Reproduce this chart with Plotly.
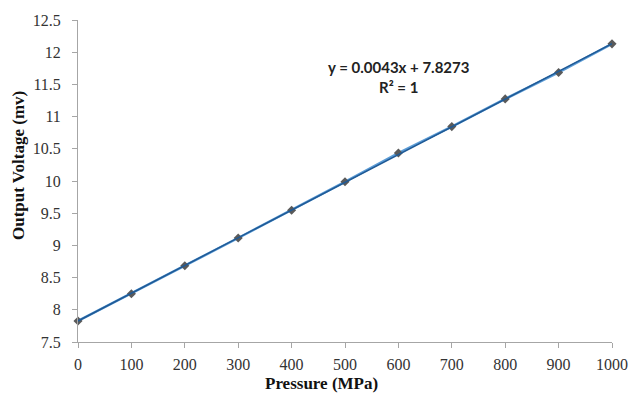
import numpy as np
import plotly.graph_objects as go

pressure = [0, 100, 200, 300, 400, 500, 600, 700, 800, 900, 1000]
voltage = [7.827, 8.250, 8.685, 9.115, 9.545, 9.988, 10.435, 10.845, 11.275, 11.685, 12.13]
x_ticks = [0, 100, 200, 300, 400, 500, 600, 700, 800, 900, 1000]
y_ticks = [7.5, 8, 8.5, 9, 9.5, 10, 10.5, 11, 11.5, 12, 12.5]
y_tick_text = ["7.5", "8", "8.5", "9", "9.5", "10", "10.5", "11", "11.5", "12", "12.5"]

slope, intercept = np.polyfit(pressure, voltage, 1)
trend_x = [pressure[0], pressure[-1]]
trend_y = [slope * v + intercept for v in trend_x]

fig = go.Figure()
fig.add_trace(go.Scatter(
    x=pressure, y=voltage, mode="lines+markers",
    line=dict(color="#5b9bd5", width=2.5),
    marker=dict(symbol="diamond", size=7, color="#5a5a5a"),
    showlegend=False, cliponaxis=False,
))
fig.add_trace(go.Scatter(
    x=trend_x, y=trend_y, mode="lines",
    line=dict(color="#1f5a96", width=1.5),
    showlegend=False,
))

axis_common = dict(
    showgrid=False, zeroline=False, showline=True, linecolor="#a6a6a6", linewidth=1,
    ticks="outside", ticklen=5, tickcolor="#a6a6a6", automargin=False,
    tickfont=dict(family="Liberation Serif", size=16, color="#333333"),
)
fig.update_xaxes(range=[0, 1000], tickvals=x_ticks, ticklabelstandoff=3, **axis_common)
fig.update_yaxes(range=[7.5, 12.5], tickvals=y_ticks, ticktext=y_tick_text, ticklabelstandoff=8, **axis_common)

fig.update_layout(
    width=632, height=396,
    margin=dict(l=78, r=20, t=20, b=54),
    paper_bgcolor="white", plot_bgcolor="white",
    annotations=[
        dict(text="<b>Pressure (MPa)</b>", xref="paper", yref="paper", x=(321 - 78) / 534, y=-41 / 322,
             xanchor="center", yanchor="middle", showarrow=False,
             font=dict(family="Liberation Serif", size=17, color="#111111")),
        dict(text="<b>Output Voltage (mv)</b>", xref="paper", yref="paper", x=-60 / 534, y=(342 - 166) / 322,
             xanchor="center", yanchor="middle", textangle=-90, showarrow=False,
             font=dict(family="Liberation Serif", size=17, color="#111111")),
        dict(text="<b>y = 0.0043x + 7.8273</b>", xref="paper", yref="paper", x=(398 - 78) / 534, y=(342 - 67) / 322,
             xanchor="center", yanchor="middle", showarrow=False,
             font=dict(family="Lato", size=15, color="#222222")),
        dict(text="<b>R² = 1</b>", xref="paper", yref="paper", x=(398 - 78) / 534, y=(342 - 87) / 322,
             xanchor="center", yanchor="middle", showarrow=False,
             font=dict(family="Lato", size=15, color="#222222")),
    ],
)

fig.write_html("out.html")
